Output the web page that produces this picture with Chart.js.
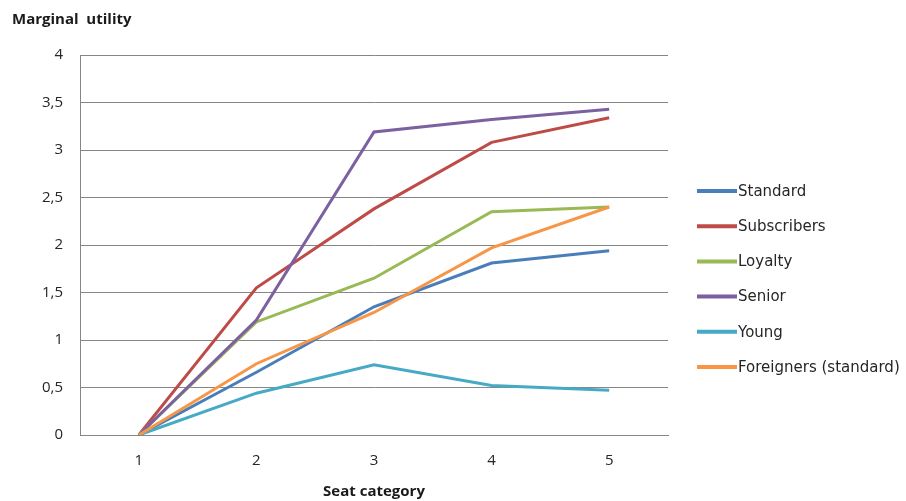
<!DOCTYPE html>
<html>
<head>
<meta charset="utf-8">
<script src="https://cdn.jsdelivr.net/npm/chart.js@4/dist/chart.umd.min.js"></script>
<style>
  html, body { margin: 0; padding: 0; background: #fff; }
  #wrap { width: 906px; height: 501px; position: relative; }
</style>
</head>
<body>
<div id="wrap"><canvas id="c" width="906" height="501"></canvas></div>
<script>
// Seat categories on the x axis
const categories = ['1', '2', '3', '4', '5'];

// Marginal utility per customer segment
const standard    = [0, 0.66, 1.35, 1.81, 1.94];
const subscribers = [0, 1.55, 2.38, 3.08, 3.34];
const loyalty     = [0, 1.19, 1.65, 2.35, 2.40];
const senior      = [0, 1.21, 3.19, 3.32, 3.43];
const young       = [0, 0.44, 0.74, 0.52, 0.47];
const foreigners  = [0, 0.75, 1.29, 1.97, 2.40];

const seriesNames = ['Standard', 'Subscribers', 'Loyalty', 'Senior', 'Young', 'Foreigners (standard)'];
const seriesData = [standard, subscribers, loyalty, senior, young, foreigners];
const seriesColors = ['#4A7EBB', '#BE4B48', '#98B954', '#7D60A0', '#46AAC5', '#F79646'];

// Value axis tick labels use a decimal comma
const yTicks = ['0', '0,5', '1', '1,5', '2', '2,5', '3', '3,5', '4'];

const datasets = seriesNames.map((name, i) => ({
  label: name,
  data: seriesData[i],
  borderColor: seriesColors[i],
  backgroundColor: seriesColors[i],
  borderWidth: 3,
  pointRadius: 0,
  tension: 0,
  fill: false,
  // later series are painted on top of earlier ones
  order: seriesNames.length - i
}));

// Legend on the right: a short line segment followed by the series name
const sideLegend = {
  id: 'sideLegend',
  afterDraw(chart) {
    const ctx = chart.ctx;
    ctx.save();
    ctx.font = '15px "DejaVu Sans"';
    ctx.textBaseline = 'middle';
    ctx.textAlign = 'left';
    chart.data.datasets.forEach((ds, i) => {
      const y = 191 + i * 35.2;
      ctx.strokeStyle = ds.borderColor;
      ctx.lineWidth = 4;
      ctx.beginPath();
      ctx.moveTo(697, y);
      ctx.lineTo(737, y);
      ctx.stroke();
      ctx.fillStyle = '#262626';
      ctx.fillText(ds.label, 738, y + 1);
    });
    // value axis title above the plot
    ctx.font = 'bold 15px "Open Sans"';
    ctx.fillStyle = '#1a1a1a';
    ctx.textBaseline = 'middle';
    ctx.fillText('Marginal  utility', 12, 20);
    ctx.restore();
  }
};

new Chart(document.getElementById('c'), {
  type: 'line',
  data: { labels: categories, datasets },
  plugins: [sideLegend],
  options: {
    responsive: false,
    animation: false,
    events: [],
    layout: { padding: { top: 55, right: 238, left: 0, bottom: 0 } },
    plugins: {
      legend: { display: false },
      tooltip: { enabled: false },
      title: { display: false }
    },
    scales: {
      x: {
        offset: true,
        grid: { display: false, drawTicks: false },
        border: { display: true, color: '#868686', width: 1 },
        ticks: {
          color: '#262626',
          font: { family: 'Open Sans', size: 15 },
          padding: 17
        },
        title: {
          display: true,
          text: 'Seat category',
          color: '#1a1a1a',
          font: { family: 'Open Sans', size: 15, weight: 'bold' },
          padding: { top: 6, bottom: 0 }
        },
        afterFit(scale) { scale.height = 66; }
      },
      y: {
        min: 0,
        max: 4,
        grid: { color: '#868686', lineWidth: 1, drawTicks: false },
        border: { display: true, color: '#868686', width: 1 },
        ticks: {
          stepSize: 0.5,
          color: '#262626',
          font: { family: 'Open Sans', size: 15 },
          padding: 17,
          callback: (v, idx) => yTicks[idx]
        },
        afterFit(scale) { scale.width = 80; }
      }
    }
  }
});
</script>
</body>
</html>
